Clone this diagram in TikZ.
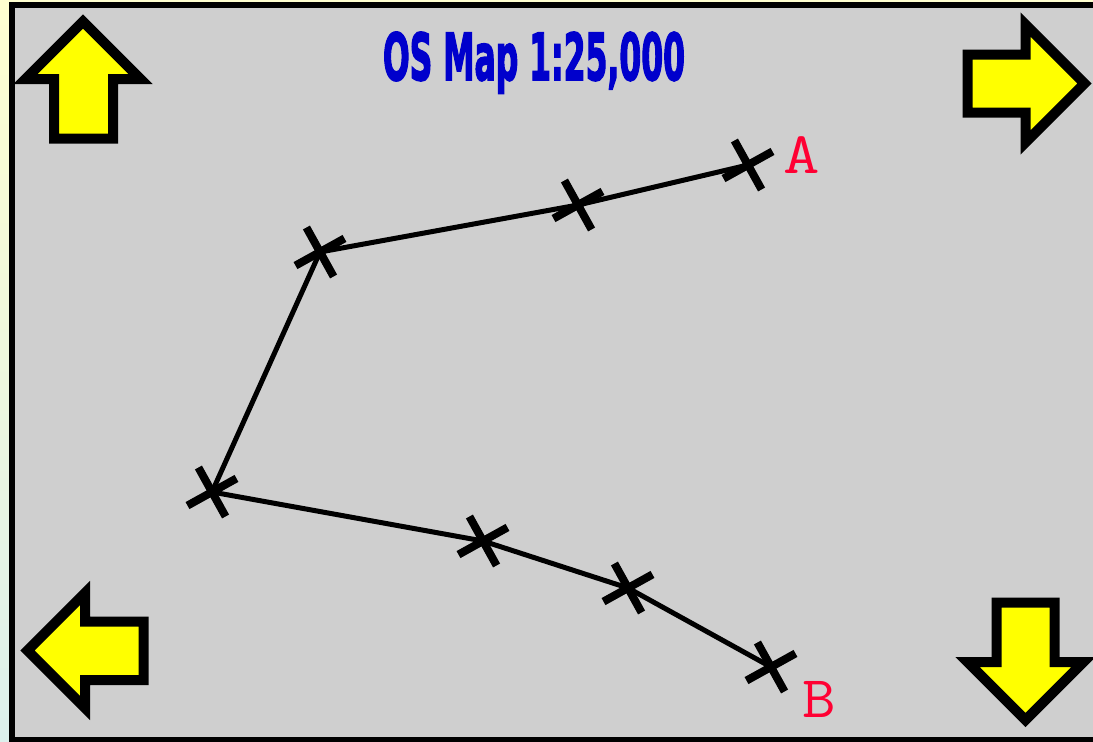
\documentclass[tikz,border=0pt]{standalone}
\usepackage{fontspec}
\usepackage{graphicx}
\newfontfamily\titlefnt{DejaVu Sans}[BoldFeatures={FakeBold=3}]
\definecolor{bgtop}{RGB}{255,255,208}
\definecolor{bgbot}{RGB}{220,240,236}
\definecolor{mapgray}{RGB}{207,207,207}
\definecolor{titleblue}{RGB}{0,0,204}
\definecolor{labelred}{RGB}{255,0,51}
\definecolor{arrowyellow}{RGB}{255,255,0}
\tikzset{
  bigarrow/.style={fill=arrowyellow, draw=black, line width=10, line join=miter},
  routeline/.style={draw=black, line width=5},
  crossmark/.pic={\draw[line width=8] (-28,0) -- (28,0) (0,-28) -- (0,28);},
  ptlabel/.style={font=\ttfamily\fontsize{59}{59}\selectfont, text=labelred, anchor=base, inner sep=0pt}
}
\begin{document}
\begin{tikzpicture}[x=1pt,y=-1pt]
\useasboundingbox (0,0) rectangle (1093,742);
\clip (0,0) rectangle (1093,742);
\shade[top color=bgtop, bottom color=bgbot] (0pt,0pt) rectangle (1093pt,-742pt);
\draw[line width=6, fill=mapgray] (12,5) rectangle (1097,740);
% corner arrows
\draw[bigarrow] (83,21.5) -- (140.5,79) -- (113,79) -- (113,138.5) -- (54,138.5) -- (54,79) -- (25.5,79) -- cycle;
\draw[bigarrow] (1084.5,83.5) -- (1025.5,142.5) -- (1025.5,112.5) -- (967.5,112.5) -- (967.5,54.5) -- (1025.5,54.5) -- (1025.5,24.5) -- cycle;
\draw[bigarrow] (27.5,650.5) -- (85,593) -- (85,621.5) -- (143.5,621.5) -- (143.5,680) -- (85,680) -- (85,708) -- cycle;
\draw[bigarrow] (1025.5,720) -- (967.5,662) -- (996.5,662) -- (996.5,602.5) -- (1054.5,602.5) -- (1054.5,662) -- (1083.5,662) -- cycle;
% title
\node[anchor=base, text=titleblue, inner sep=0pt] (title) at (534,80) {\resizebox{302pt}{48pt}{\titlefnt\bfseries OS Map 1:25,000}};
% route
\coordinate (p1) at (748,165);
\coordinate (p2) at (578,205);
\coordinate (p3) at (320,252);
\coordinate (p4) at (212,492);
\coordinate (p5) at (483,541);
\coordinate (p6) at (628,588);
\coordinate (p7) at (771,667);
\draw[routeline] (p1) -- (p2) -- (p3) -- (p4) -- (p5) -- (p6) -- (p7);
\foreach \p in {p1,p2,p3,p4,p5,p6,p7} \pic[rotate=29] at (\p) {crossmark};
\node[ptlabel] (lA) at (802,173) {\scalebox{1.2}[1]{A}};
\node[ptlabel] (lB) at (819,717) {\scalebox{1.1}[1]{B}};
\end{tikzpicture}
\end{document}
